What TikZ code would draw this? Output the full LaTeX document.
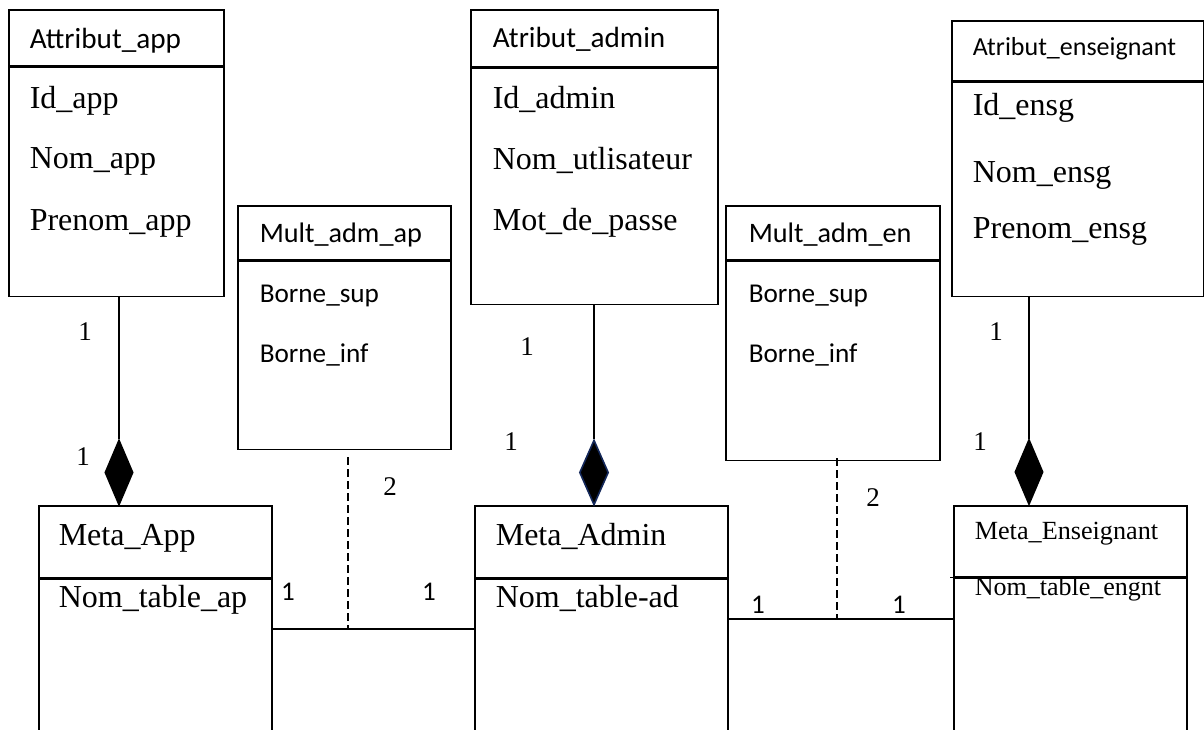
\documentclass[tikz,border=0pt]{standalone}
\usepackage{fontspec}
\setmainfont{Liberation Serif}
\newfontfamily\calib{Carlito}
\usepackage{tikz}
\usetikzlibrary{shapes.geometric}

\definecolor{darknavy}{RGB}{20,40,90}

\tikzset{
  box/.style={draw, rectangle, inner sep=0pt, anchor=north west},
  ttl/.style={anchor=base west, inner sep=0pt, font=\calib\fontsize{14.6}{17}\selectfont},
  att/.style={anchor=base west, inner sep=0pt, font=\fontsize{16}{18}\selectfont},
  satt/.style={anchor=base west, inner sep=0pt, font=\calib\fontsize{13.6}{16}\selectfont},
  mult/.style={anchor=base, inner sep=0pt, font=\fontsize{13.5}{15}\selectfont},
  smult/.style={anchor=base, inner sep=0pt, font=\calib\fontsize{13.5}{15}\selectfont},
  comp/.style={diamond, draw, fill=black, inner sep=0pt, minimum width=14pt, minimum height=32.5pt},
}

\begin{document}
\begin{tikzpicture}[x=0.5pt, y=-0.5pt, line width=0.8pt]
  \useasboundingbox (0,0) rectangle (1204,729);
  \clip (0,0) rectangle (1204,729);

  % attribute classes (top row)
  \draw (8,9) node[box, minimum width=107.5pt, minimum height=28pt] (hAttApp) {};
  \node[box, minimum width=107.5pt, minimum height=114.5pt] (bAttApp) at (hAttApp.south west) {};
  \draw (470,9) node[box, minimum width=123.5pt, minimum height=28.5pt] (hAttAdm) {};
  \node[box, minimum width=123.5pt, minimum height=118pt] (bAttAdm) at (hAttAdm.south west) {};
  \draw (951,20) node[box, minimum width=126pt, minimum height=30pt] (hAttEns) {};
  \node[box, minimum width=126pt, minimum height=107pt] (bAttEns) at (hAttEns.south west) {};

  % multiplicity classes
  \draw (237,205) node[box, minimum width=106.5pt, minimum height=27pt] (hMultAp) {};
  \node[box, minimum width=106.5pt, minimum height=94pt] (bMultAp) at (hMultAp.south west) {};
  \draw (725,205) node[box, minimum width=107pt, minimum height=27pt] (hMultEn) {};
  \node[box, minimum width=107pt, minimum height=99.5pt] (bMultEn) at (hMultEn.south west) {};

  % meta classes (bottom row, run off the page)
  \draw (38,505) node[box, minimum width=116.5pt, minimum height=36pt] (hMetaApp) {};
  \node[box, minimum width=116.5pt, minimum height=91.5pt] (bMetaApp) at (hMetaApp.south west) {};
  \draw (474,505) node[box, minimum width=126.5pt, minimum height=36pt] (hMetaAdm) {};
  \node[box, minimum width=126.5pt, minimum height=91.5pt] (bMetaAdm) at (hMetaAdm.south west) {};
  \draw (953,505) node[box, minimum width=116.5pt, minimum height=35.5pt] (hMetaEns) {};
  \node[box, minimum width=116.5pt, minimum height=92pt] (bMetaEns) at (hMetaEns.south west) {};
  \draw (hMetaEns.south west) -- ++(-3,0);

  % texts
  \draw (29,48) node[ttl] (tAttApp) {Attribut\_app};
  \draw (29,108) node[att] (idApp) {Id\_app};
  \draw (29,168) node[att] (nomApp) {Nom\_app};
  \draw (29,230) node[att] (preApp) {Prenom\_app};

  \draw (492,47) node[ttl] (tAttAdm) {Atribut\_admin};
  \draw (492,108) node[att] (idAdm) {Id\_admin};
  \draw (492,169) node[att] (nomAdm) {Nom\_utlisateur};
  \draw (492,230) node[att] (mdpAdm) {Mot\_de\_passe};

  \draw (972,55) node[ttl, font=\calib\fontsize{13}{15}\selectfont] (tAttEns) {Atribut\_enseignant};
  \draw (972,115) node[att] (idEns) {Id\_ensg};
  \draw (972,182) node[att] (nomEns) {Nom\_ensg};
  \draw (972,238) node[att] (preEns) {Prenom\_ensg};

  \draw (259,242) node[ttl, font=\calib\fontsize{14.1}{16}\selectfont] (tMultAp) {Mult\_adm\_ap};
  \draw (259,302) node[satt] (supAp) {Borne\_sup};
  \draw (259,362) node[satt] (infAp) {Borne\_inf};

  \draw (748,242) node[ttl, font=\calib\fontsize{14.1}{16}\selectfont] (tMultEn) {Mult\_adm\_en};
  \draw (748,302) node[satt] (supEn) {Borne\_sup};
  \draw (748,362) node[satt] (infEn) {Borne\_inf};

  \draw (58,545) node[att] (tMetaApp) {Meta\_App};
  \draw (58,607) node[att] (tabApp) {Nom\_table\_ap};
  \draw (495,545) node[att] (tMetaAdm) {Meta\_Admin};
  \draw (495,607) node[att] (tabAdm) {Nom\_table-ad};
  \draw (974,539) node[att, font=\fontsize{13.1}{15}\selectfont] (tMetaEns) {Meta\_Enseignant};
  \draw (974,595) node[att, font=\fontsize{13}{15}\selectfont] (tabEns) {Nom\_table\_engnt};

  % composition diamonds
  \draw (119,472.5) node[comp] (dApp) {};
  \draw (594,472.5) node[comp, draw=darknavy, minimum width=14.5pt] (dAdm) {};
  \draw (1029,472) node[comp] (dEns) {};

  \path[-] (dApp.north) edge (dApp.north |- bAttApp.south);
  \path[-] (dAdm.north) edge (dAdm.north |- bAttAdm.south);
  \path[-] (dEns.north) edge (dEns.north |- bAttEns.south);

  % associations with their multiplicity classes
  \coordinate (jAp) at (348,629);
  \coordinate (dAp) at (348,457);
  \coordinate (jEn) at (837,619);
  \coordinate (dEn) at (837,458);
  \path[-] (jAp -| bMetaApp.east) edge (jAp -| bMetaAdm.west);
  \path[-] (jEn -| bMetaAdm.east) edge (jEn -| bMetaEns.west);
  \path[dash pattern=on 4pt off 2pt] (dAp) edge (jAp);
  \path[dash pattern=on 4pt off 2pt] (dEn) edge (jEn);

  % multiplicities
  \draw (85,340) node[mult] (m1) {1};
  \draw (83,465) node[mult] (m2) {1};
  \draw (527,355) node[mult] (m3) {1};
  \draw (511,450) node[mult] (m4) {1};
  \draw (996,340) node[mult] (m5) {1};
  \draw (980,450) node[mult] (m6) {1};
  \draw (390,495) node[mult] (m7) {2};
  \draw (873,506) node[mult] (m8) {2};
  \draw (288,600) node[smult] (m9) {1};
  \draw (429,600) node[smult] (m10) {1};
  \draw (758,613) node[smult] (m11) {1};
  \draw (899,613) node[smult] (m12) {1};

\end{tikzpicture}
\end{document}
